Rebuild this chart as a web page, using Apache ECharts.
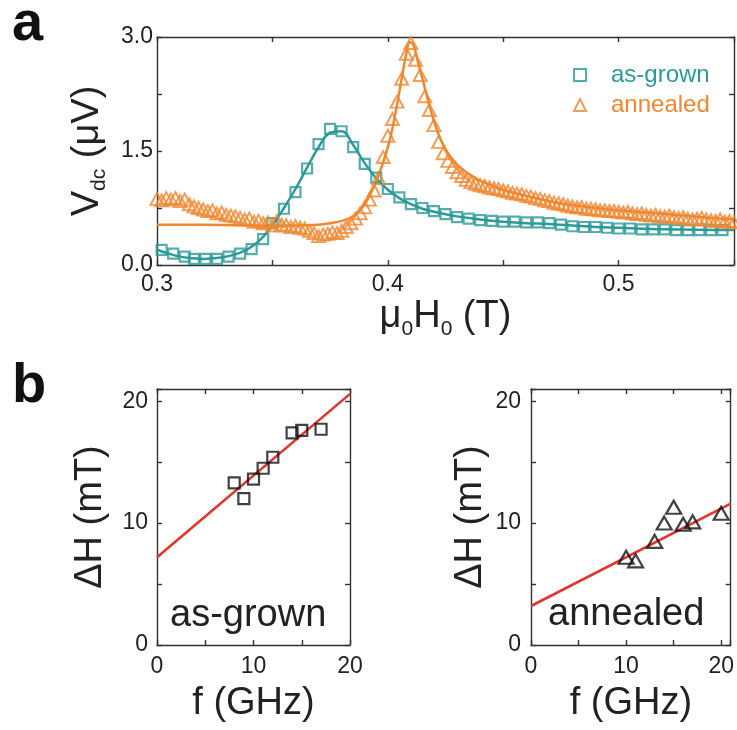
<!DOCTYPE html>
<html>
<head>
<meta charset="utf-8">
<script src="https://cdn.jsdelivr.net/npm/echarts@6/dist/echarts.min.js"></script>
<style>html,body{margin:0;padding:0;background:#fff;}#c{width:737px;height:730px;}</style>
</head>
<body>
<div id="c"></div>
<script>
// ---------- Panel a data ----------
const fieldAsGrown = [0.302,0.307,0.312,0.316,0.321,0.326,0.331,0.336,0.341,0.346,0.350,0.355,0.360,0.365,0.370,0.375,0.380,0.385,0.390,0.395,0.400,0.405,0.410,0.415,0.420,0.425,0.430,0.435,0.440,0.445,0.450,0.455,0.460,0.465,0.470,0.475,0.480,0.485,0.490,0.495,0.500,0.505,0.510,0.515,0.520,0.525,0.530,0.535,0.540,0.545];
const vdcAsGrown = [0.20,0.15,0.11,0.08,0.08,0.08,0.11,0.15,0.21,0.34,0.55,0.74,0.96,1.27,1.59,1.79,1.76,1.55,1.33,1.15,1.00,0.89,0.80,0.75,0.71,0.67,0.63,0.61,0.59,0.58,0.57,0.57,0.56,0.56,0.55,0.53,0.51,0.50,0.50,0.49,0.48,0.48,0.47,0.47,0.47,0.46,0.46,0.46,0.46,0.46];
const fieldAnnealed = [0.300,0.302,0.304,0.306,0.308,0.310,0.312,0.314,0.316,0.318,0.320,0.322,0.324,0.326,0.328,0.330,0.332,0.334,0.336,0.338,0.340,0.342,0.344,0.346,0.348,0.350,0.352,0.354,0.356,0.358,0.360,0.362,0.364,0.366,0.368,0.370,0.372,0.374,0.376,0.378,0.380,0.382,0.384,0.386,0.388,0.390,0.392,0.394,0.396,0.398,0.400,0.402,0.404,0.406,0.408,0.410,0.412,0.414,0.416,0.418,0.420,0.422,0.424,0.426,0.428,0.430,0.432,0.434,0.436,0.438,0.440,0.442,0.444,0.446,0.448,0.450,0.452,0.454,0.456,0.458,0.460,0.462,0.464,0.466,0.468,0.470,0.472,0.474,0.476,0.478,0.480,0.482,0.484,0.486,0.488,0.490,0.492,0.494,0.496,0.498,0.500,0.502,0.504,0.506,0.508,0.510,0.512,0.514,0.516,0.518,0.520,0.522,0.524,0.526,0.528,0.530,0.532,0.534,0.536,0.538,0.540,0.542,0.544,0.546,0.548,0.550];
const vdcAnnealed = [0.87,0.85,0.88,0.86,0.88,0.84,0.86,0.80,0.77,0.75,0.73,0.71,0.72,0.68,0.69,0.66,0.65,0.64,0.62,0.60,0.61,0.57,0.58,0.55,0.56,0.52,0.58,0.53,0.52,0.50,0.51,0.49,0.48,0.45,0.42,0.38,0.40,0.41,0.43,0.42,0.45,0.50,0.55,0.61,0.68,0.76,0.86,0.98,1.14,1.42,1.70,1.92,2.15,2.45,2.78,2.92,2.70,2.50,2.22,2.04,1.84,1.62,1.47,1.37,1.29,1.22,1.17,1.12,1.09,1.07,1.05,1.04,1.02,1.01,1.00,0.98,0.97,0.95,0.94,0.93,0.91,0.90,0.88,0.87,0.85,0.84,0.82,0.81,0.80,0.78,0.77,0.76,0.76,0.74,0.74,0.73,0.72,0.72,0.71,0.71,0.70,0.69,0.70,0.68,0.67,0.68,0.66,0.65,0.66,0.64,0.64,0.65,0.63,0.62,0.63,0.61,0.60,0.61,0.62,0.60,0.59,0.58,0.60,0.57,0.58,0.56];
const fitFieldAsGrown = [0.300,0.305,0.310,0.315,0.320,0.325,0.330,0.335,0.340,0.345,0.350,0.355,0.360,0.365,0.370,0.375,0.380,0.385,0.390,0.395,0.400,0.405,0.410,0.415,0.420,0.430,0.440,0.450,0.460,0.470,0.480,0.490,0.500,0.520,0.550];
const fitVdcAsGrown = [0.20,0.15,0.11,0.09,0.08,0.09,0.11,0.15,0.22,0.34,0.52,0.75,1.00,1.28,1.55,1.74,1.76,1.58,1.34,1.14,0.99,0.88,0.80,0.74,0.70,0.64,0.60,0.57,0.55,0.54,0.52,0.50,0.49,0.47,0.46];
const fitFieldAnnealed = [0.300,0.320,0.340,0.350,0.360,0.370,0.375,0.380,0.385,0.390,0.395,0.400,0.403,0.406,0.408,0.4095,0.411,0.413,0.415,0.418,0.421,0.425,0.430,0.435,0.440,0.450,0.460,0.470,0.480,0.490,0.500,0.520,0.540,0.550];
const fitVdcAnnealed = [0.53,0.53,0.52,0.52,0.52,0.53,0.55,0.58,0.64,0.80,1.10,1.55,1.95,2.45,2.78,2.93,2.90,2.68,2.45,2.10,1.80,1.52,1.32,1.20,1.11,0.99,0.91,0.84,0.79,0.75,0.72,0.67,0.62,0.60];
const ticksA_x = [0.3, 0.4, 0.5];
const ticksA_y = [0.0, 1.5, 3.0];

// ---------- Panel b data ----------
const freqAsGrown = [8, 9, 10, 11, 12, 14, 15, 17];
const dHAsGrown = [13.3, 12.0, 13.6, 14.5, 15.4, 17.4, 17.6, 17.7];
const freqAnnealed = [10, 11, 13, 14, 15, 16, 17, 20];
const dHAnnealed = [7.2, 6.9, 8.5, 10.0, 11.3, 9.9, 10.1, 10.8];
const fitFreqAsGrown = [0, 20];
const fitDHAsGrown = [7.2, 20.6];
const fitFreqAnnealed = [0, 21];
const fitDHAnnealed = [3.2, 11.6];
const ticksB = [0, 10, 20];

// ---------- styles ----------
const FONT = '"Liberation Sans", Arial, Helvetica, sans-serif';
const TEAL = '#2b9a98';
const ORANGE = '#f0872f';
const RED = '#e2352c';
const AX = '#333333';
const CLEAR = 'rgba(0,0,0,0)';

function zip(a, b) { return a.map((v, i) => [v, b[i]]); }
function inList(list, v) { return list.some(t => Math.abs(t - v) < 1e-6); }

const axisLineStyle = { show: true, onZero: false, lineStyle: { color: AX, width: 1.4 } };
const tickStyle = { show: true, inside: true, length: 5, lineStyle: { color: AX, width: 1.4 } };
const labelBase = { fontFamily: FONT, fontSize: 23, color: '#222' };
const nameStyle = { fontFamily: FONT, fontSize: 38, color: '#222', rich: {
  m: { fontFamily: FONT, fontSize: 38, color: '#222' },
  s: { fontFamily: FONT, fontSize: 21, color: '#222', verticalAlign: 'bottom', padding: [0, 0, -4, 0] } } };

function mainX(grid, min, max, interval, fmt, name, nameGap, margin) {
  return {
    gridIndex: grid, type: 'value', position: 'bottom', min, max, interval,
    axisLine: axisLineStyle, axisTick: tickStyle, splitLine: { show: false },
    axisLabel: Object.assign({ margin, formatter: fmt, showMinLabel: true, showMaxLabel: true }, labelBase),
    name, nameLocation: 'middle', nameGap, nameTextStyle: nameStyle
  };
}
function mirrorX(grid, min, max, interval) {
  return { gridIndex: grid, type: 'value', position: 'top', min, max, interval,
    axisLine: axisLineStyle, axisTick: tickStyle, axisLabel: { show: false }, splitLine: { show: false } };
}
function mainY(grid, min, max, interval, fmt, name, nameGap, margin) {
  return {
    gridIndex: grid, type: 'value', position: 'left', min, max, interval,
    axisLine: axisLineStyle, axisTick: tickStyle, splitLine: { show: false },
    axisLabel: Object.assign({ margin, formatter: fmt, showMinLabel: true, showMaxLabel: true }, labelBase),
    name, nameLocation: 'middle', nameGap, nameRotate: 90, nameTextStyle: nameStyle
  };
}
function mirrorY(grid, min, max, interval) {
  return { gridIndex: grid, type: 'value', position: 'right', min, max, interval,
    axisLine: axisLineStyle, axisTick: tickStyle, axisLabel: { show: false }, splitLine: { show: false } };
}

const fmtAx = v => inList(ticksA_x, v) ? v.toFixed(1) : '';
const fmtAy = v => inList(ticksA_y, v) ? v.toFixed(1) : '';
const fmtB = v => inList(ticksB, v) ? String(Math.round(v)) : '';

const option = {
  backgroundColor: '#fff',
  animation: false,
  grid: [
    { left: 157, top: 37, width: 577, height: 228 },
    { left: 157, top: 389, width: 193, height: 256 },
    { left: 531, top: 389, width: 202, height: 256 }
  ],
  xAxis: [
    mainX(0, 0.3, 0.55, 0.05, fmtAx, '{m|μ}{s|0}{m|H}{s|0}{m| (T)}', 33, 8),
    mirrorX(0, 0.3, 0.55, 0.05),
    mainX(1, 0, 20, 5, fmtB, 'f (GHz)', 40, 10),
    mirrorX(1, 0, 20, 5),
    mainX(2, 0, 21, 5, fmtB, 'f (GHz)', 40, 10),
    mirrorX(2, 0, 21, 5)
  ],
  yAxis: [
    mainY(0, 0, 3, 0.75, fmtAy, '{m|V}{s|dc}{m| (μV)}', 47, 4),
    mirrorY(0, 0, 3, 0.75),
    mainY(1, 0, 21, 5, fmtB, 'ΔH (mT)', 47, 9),
    mirrorY(1, 0, 21, 5),
    mainY(2, 0, 21, 5, fmtB, 'ΔH (mT)', 41, 10),
    mirrorY(2, 0, 21, 5)
  ],
  legend: {
    orient: 'vertical', left: 568, top: 58, itemWidth: 12, itemHeight: 12, itemGap: 6,
    textStyle: { fontFamily: FONT, fontSize: 24, padding: [0, 0, 0, 20] },
    selectedMode: false,
    data: [
      { name: 'as-grown', icon: 'rect', itemStyle: { color: CLEAR, borderColor: TEAL, borderWidth: 2 }, textStyle: { color: TEAL } },
      { name: 'annealed', icon: 'triangle', itemStyle: { color: CLEAR, borderColor: ORANGE, borderWidth: 2 }, textStyle: { color: ORANGE } }
    ]
  },
  graphic: [
    { type: 'text', left: 12, top: -3, style: { text: 'a', font: 'bold 56px ' + FONT, fill: '#111' } },
    { type: 'text', left: 12, top: 359, style: { text: 'b', font: 'bold 56px ' + FONT, fill: '#111' } },
    { type: 'text', left: 170, top: 597, style: { text: 'as-grown', font: '38px ' + FONT, fill: '#222' } },
    { type: 'text', left: 548, top: 596, style: { text: 'annealed', font: '38px ' + FONT, fill: '#222' } }
  ],
  series: [
    { name: 'as-grown fit', type: 'line', xAxisIndex: 0, yAxisIndex: 0, data: zip(fitFieldAsGrown, fitVdcAsGrown),
      smooth: 0.4, showSymbol: false, lineStyle: { color: TEAL, width: 2.5 }, z: 2 },
    { name: 'annealed fit', type: 'line', xAxisIndex: 0, yAxisIndex: 0, data: zip(fitFieldAnnealed, fitVdcAnnealed),
      smooth: 0.4, showSymbol: false, lineStyle: { color: ORANGE, width: 2.5 }, z: 2 },
    { name: 'as-grown', type: 'scatter', xAxisIndex: 0, yAxisIndex: 0, data: zip(fieldAsGrown, vdcAsGrown),
      symbol: 'rect', symbolSize: 10, itemStyle: { color: CLEAR, borderColor: TEAL, borderWidth: 2.2 }, z: 3 },
    { name: 'annealed', type: 'scatter', xAxisIndex: 0, yAxisIndex: 0, data: zip(fieldAnnealed, vdcAnnealed),
      symbol: 'triangle', symbolSize: [13, 12], itemStyle: { color: CLEAR, borderColor: ORANGE, borderWidth: 2 }, z: 4 },

    { name: 'fit b1', type: 'line', xAxisIndex: 2, yAxisIndex: 2, data: zip(fitFreqAsGrown, fitDHAsGrown),
      showSymbol: false, lineStyle: { color: RED, width: 2.6 }, z: 2 },
    { name: 'dH as-grown', type: 'scatter', xAxisIndex: 2, yAxisIndex: 2, data: zip(freqAsGrown, dHAsGrown),
      symbol: 'rect', symbolSize: 11, itemStyle: { color: CLEAR, borderColor: '#111', borderWidth: 2.2 }, z: 3 },
    { name: 'fit b2', type: 'line', xAxisIndex: 4, yAxisIndex: 4, data: zip(fitFreqAnnealed, fitDHAnnealed),
      showSymbol: false, lineStyle: { color: RED, width: 2.6 }, z: 2 },
    { name: 'dH annealed', type: 'scatter', xAxisIndex: 4, yAxisIndex: 4, data: zip(freqAnnealed, dHAnnealed),
      symbol: 'triangle', symbolSize: [15, 13], itemStyle: { color: CLEAR, borderColor: '#111', borderWidth: 2.2 }, z: 3 }
  ]
};

const chart = echarts.init(document.getElementById('c'), null, { renderer: 'canvas' });
chart.setOption(option);
</script>
</body>
</html>
